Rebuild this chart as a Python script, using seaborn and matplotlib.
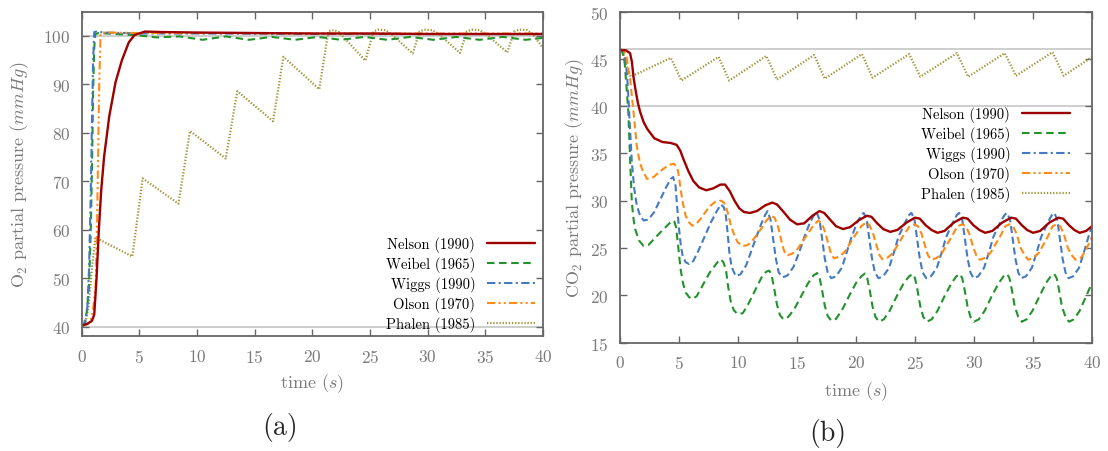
import matplotlib
matplotlib.use("Agg")
import matplotlib.pyplot as plt
from matplotlib.lines import Line2D
import seaborn as sns

# ---------------- data ----------------
labels = ["Nelson (1990)", "Weibel (1965)", "Wiggs (1990)", "Olson (1970)", "Phalen (1985)"]

# (a) O2 partial pressure, mmHg
o2_nelson_t = [0, 0.5, 0.9, 1.1, 1.3, 1.5, 1.7, 1.95, 2.4, 2.95, 3.5, 4.1, 4.6, 5.5, 7, 10, 15, 20, 25, 30, 35, 40]
o2_nelson_p = [40.2, 40.6, 41.2, 42.5, 50.0, 60.0, 68.0, 75.0, 83.4, 90.5, 95.0, 98.7, 100.2, 100.9, 100.8, 100.7,
               100.6, 100.5, 100.5, 100.4, 100.4, 100.4]

o2_weibel_t = [0, 0.2, 0.45, 0.64, 0.8, 0.9, 1.0, 1.1, 1.2, 1.5, 3, 5, 6.5, 8.5, 10.5, 12.5, 14.5, 16.5, 18.5, 20.5,
               22.5, 24.5, 26.5, 28.5, 30.5, 32.5, 34.5, 36.5, 38.5, 40]
o2_weibel_p = [40.2, 40.4, 43.0, 48.0, 60.0, 72.0, 88.0, 97.5, 100.4, 100.6, 100.4, 100.1, 99.7, 99.9, 99.2, 99.9,
               99.2, 99.8, 99.2, 99.8, 99.2, 99.8, 99.2, 99.8, 99.2, 99.8, 99.2, 99.8, 99.2, 99.6]

o2_wiggs_t = [0, 0.3, 0.5, 0.65, 0.8, 0.9, 1.0, 1.1, 1.3, 2, 5, 10, 20, 30, 40]
o2_wiggs_p = [40.2, 40.6, 44.0, 52.0, 68.0, 82.0, 95.0, 100.8, 100.9, 100.7, 100.5, 100.5, 100.4, 100.4, 100.4]

o2_olson_t = [0, 0.5, 0.8, 1.0, 1.22, 1.35, 1.45, 1.55, 1.65, 1.8, 2.5, 5, 10, 20, 30, 40]
o2_olson_p = [40.2, 40.5, 41.4, 43.5, 48.2, 62.0, 78.0, 92.0, 100.4, 100.7, 100.7, 100.6, 100.6, 100.5, 100.5, 100.5]

o2_phalen_t = [0, 0.3, 0.6, 0.9, 1.2, 4.4, 5.3, 8.4, 9.4, 12.5, 13.5, 16.6, 17.5, 20.6, 21.4, 21.9, 22.3, 24.6,
               25.3, 25.7, 26.3, 26.8, 28.7, 29.3, 29.7, 30.4, 30.9, 32.8, 33.4, 33.8, 34.5, 35.0, 36.9, 37.5,
               37.9, 38.6, 39.1, 40]
o2_phalen_p = [40.0, 40.5, 44.0, 52.0, 58.4, 54.5, 70.6, 65.4, 80.4, 74.7, 88.6, 82.4, 95.7, 89.0, 101.0, 101.2,
               100.8, 94.9, 100.9, 101.3, 101.2, 100.5, 96.4, 100.9, 101.3, 101.2, 100.5, 96.5, 100.9, 101.3,
               101.2, 100.5, 96.6, 100.9, 101.3, 101.2, 100.4, 97.5]

# (b) CO2 partial pressure, mmHg
co2_nelson_t = [0, 0.5, 0.85, 1.0, 1.15, 1.3, 1.5, 1.7, 2.0, 2.3, 2.9, 3.6, 4.3, 4.8, 5.1, 5.4, 5.8, 6.2, 6.7,
                7.3, 7.9, 8.5, 8.9, 9.3, 9.7, 10.1, 10.5, 11.0, 11.6, 12.3, 12.9, 13.3, 13.8, 14.4, 15.0, 15.6,
                16.3, 16.9, 17.3, 17.8, 18.3, 18.9, 19.5, 20.2, 20.9, 21.3, 21.8, 22.3, 22.9, 23.5, 24.3, 25.0,
                25.4, 25.9, 26.4, 26.9, 27.5, 28.3, 29.05, 29.45, 29.95, 30.45, 30.95, 31.55, 32.4, 33.15, 33.55,
                34.05, 34.5, 35.0, 35.6, 36.4, 37.15, 37.55, 38.05, 38.5, 38.95, 39.5, 40.0]
co2_nelson_p = [45.9, 45.9, 45.6, 44.7, 43.0, 41.8, 40.4, 39.4, 38.3, 37.6, 36.6, 36.2, 36.1, 35.9, 35.3, 34.3,
                33.1, 32.1, 31.4, 31.1, 31.3, 31.7, 31.7, 31.0, 30.0, 29.2, 28.8, 28.7, 28.9, 29.5, 29.8, 29.6,
                28.9, 28.0, 27.5, 27.6, 28.4, 28.9, 28.7, 28.0, 27.3, 27.0, 27.2, 27.9, 28.4, 28.3, 27.6, 27.0,
                26.7, 26.9, 27.7, 28.2, 28.1, 27.4, 26.9, 26.6, 26.8, 27.7, 28.2, 28.1, 27.4, 26.9, 26.6, 26.8,
                27.7, 28.2, 28.1, 27.4, 26.9, 26.6, 26.8, 27.7, 28.2, 28.1, 27.4, 26.9, 26.6, 26.8, 27.3]

co2_weibel_t = [0, 0.2, 0.4, 0.55, 0.7, 0.85, 1.0, 1.15, 1.28, 1.6, 2.0, 2.4, 2.85, 3.3, 3.7, 4.1, 4.42, 4.6,
                4.75, 4.9, 5.13, 5.35, 5.56, 5.85, 6.13, 6.5, 6.98, 7.6, 8.26, 8.55, 8.75, 8.97, 9.15, 9.4, 9.65,
                9.97, 10.4, 10.8, 11.4, 12.0, 12.4, 12.65, 12.85, 13.05, 13.3, 13.55, 13.85, 14.25, 14.75, 15.35,
                15.95, 16.4, 16.7, 16.9, 17.1, 17.35, 17.6, 17.9, 18.3, 18.8, 19.4, 20.0, 20.45, 20.75, 20.95,
                21.15, 21.4, 21.65, 21.95, 22.35, 22.85, 23.45, 24.05, 24.5, 24.8, 25.0, 25.2, 25.45, 25.7, 26.0,
                26.4, 26.9, 27.5, 28.1, 28.5, 28.8, 29.0, 29.2, 29.45, 29.7, 30.0, 30.4, 30.9, 31.5, 32.1, 32.5,
                32.8, 33.0, 33.2, 33.45, 33.75, 34.05, 34.45, 34.95, 35.55, 36.1, 36.5, 36.8, 37.0, 37.2, 37.45,
                37.75, 38.05, 38.45, 38.95, 39.5, 40.0]
co2_weibel_p = [46.0, 45.8, 44.5, 42.0, 39.4, 34.5, 29.8, 28.0, 27.0, 25.8, 25.2, 25.3, 25.9, 26.5, 27.0, 27.5,
                27.9, 27.8, 27.2, 25.5, 22.75, 21.2, 20.3, 19.8, 19.6, 19.9, 21.0, 22.4, 23.5, 23.8, 23.5, 22.75,
                21.0, 19.2, 18.4, 18.0, 18.1, 18.9, 20.4, 21.9, 22.5, 22.6, 22.1, 20.8, 19.0, 17.9, 17.45, 17.7,
                18.5, 19.9, 21.3, 22.1, 22.35, 21.9, 20.7, 18.9, 17.8, 17.3, 17.5, 18.4, 19.9, 21.3, 22.0, 22.3,
                21.8, 20.6, 18.8, 17.7, 17.2, 17.45, 18.35, 19.9, 21.3, 22.0, 22.25, 21.8, 20.6, 18.8, 17.7, 17.2,
                17.45, 18.35, 19.9, 21.3, 22.0, 22.25, 21.8, 20.6, 18.8, 17.7, 17.2, 17.45, 18.35, 19.9, 21.3,
                22.0, 22.25, 21.8, 20.6, 18.8, 17.7, 17.2, 17.45, 18.35, 19.9, 21.3, 22.0, 22.25, 21.8, 20.6,
                18.8, 17.7, 17.2, 17.45, 18.35, 19.9, 21.3]

co2_wiggs_t = [0, 0.3, 0.45, 0.6, 0.7, 0.85, 1.0, 1.2, 1.42, 1.7, 2.0, 2.4, 2.9, 3.4, 3.9, 4.3, 4.5, 4.7, 4.85,
               5.0, 5.15, 5.3, 5.55, 5.85, 6.2, 6.6, 7.1, 7.7, 8.2, 8.55, 8.8, 8.97, 9.1, 9.26, 9.45, 9.8, 10.2,
               10.7, 11.3, 11.95, 12.3, 12.5, 12.75, 12.95, 13.2, 13.45, 13.8, 14.2, 14.7, 15.2, 15.6, 16.1,
               16.45, 16.65, 16.9, 17.1, 17.35, 17.6, 17.9, 18.3, 18.8, 19.2, 19.6, 20.1, 20.45, 20.65, 20.9,
               21.1, 21.35, 21.6, 21.9, 22.3, 22.8, 23.2, 23.6, 24.2, 24.5, 24.7, 24.95, 25.15, 25.4, 25.65,
               25.95, 26.35, 26.85, 27.25, 27.65, 28.25, 28.55, 28.75, 29.0, 29.2, 29.45, 29.7, 29.95, 30.35,
               30.85, 31.25, 31.65, 32.25, 32.6, 32.8, 33.05, 33.25, 33.5, 33.75, 34.0, 34.4, 34.9, 35.3, 35.7,
               36.3, 36.6, 36.8, 37.05, 37.25, 37.5, 37.75, 38.0, 38.4, 38.9, 39.3, 39.7, 40.0]
co2_wiggs_p = [46.0, 45.9, 45.0, 43.2, 41.1, 37.5, 34.1, 31.3, 29.5, 28.4, 27.9, 28.0, 28.8, 30.1, 31.4, 32.3,
               32.5, 31.6, 29.2, 27.0, 25.3, 24.2, 23.5, 23.3, 23.6, 24.6, 26.0, 27.7, 28.9, 29.6, 29.3, 28.4,
               26.8, 24.6, 23.0, 22.05, 22.2, 23.2, 25.3, 27.5, 28.5, 28.9, 28.0, 26.2, 23.9, 22.4, 21.9, 22.1,
               23.0, 24.6, 26.1, 27.7, 28.5, 28.8, 28.0, 26.2, 23.9, 22.4, 21.8, 22.0, 22.9, 24.5, 26.1, 27.7,
               28.5, 28.7, 28.0, 26.2, 23.9, 22.4, 21.8, 22.0, 22.9, 24.5, 26.2, 27.8, 28.5, 28.7, 28.0, 26.2,
               23.9, 22.4, 21.8, 22.0, 22.9, 24.5, 26.2, 27.8, 28.5, 28.7, 28.0, 26.2, 23.9, 22.4, 21.8, 22.0,
               22.9, 24.5, 26.2, 27.8, 28.5, 28.7, 28.0, 26.2, 23.9, 22.4, 21.8, 22.0, 22.9, 24.5, 26.2, 27.8,
               28.5, 28.7, 28.0, 26.2, 23.9, 22.4, 21.8, 22.0, 22.9, 24.5, 26.2, 27.3]

co2_olson_t = [0, 0.3, 0.55, 0.85, 1.14, 1.42, 1.65, 1.85, 2.28, 2.85, 3.3, 3.7, 4.2, 4.56, 4.85, 5.0, 5.13,
               5.35, 5.56, 5.85, 6.13, 6.5, 6.84, 7.3, 7.69, 8.1, 8.55, 8.8, 8.97, 9.2, 9.4, 9.7, 9.97, 10.4,
               10.8, 11.1, 11.6, 12.0, 12.4, 12.8, 13.1, 13.4, 13.7, 13.9, 14.15, 14.6, 15.05, 15.8, 16.4, 16.8,
               17.1, 17.4, 17.7, 17.9, 18.15, 18.6, 19.05, 19.85, 20.45, 20.85, 21.15, 21.45, 21.8, 22.0, 22.25,
               22.7, 23.15, 23.95, 24.55, 24.95, 25.25, 25.55, 25.9, 26.1, 26.4, 26.85, 27.3, 28.1, 28.6, 29.0,
               29.3, 29.6, 29.95, 30.2, 30.5, 30.95, 31.4, 32.2, 32.65, 33.0, 33.3, 33.6, 33.95, 34.3, 34.6,
               35.05, 35.5, 36.25, 36.65, 37.0, 37.3, 37.6, 37.95, 38.3, 38.6, 39.05, 39.45, 40.0]
co2_olson_p = [46.0, 45.9, 45.2, 42.9, 39.4, 35.8, 34.2, 33.4, 32.3, 32.5, 33.0, 33.4, 33.8, 33.9, 33.5, 32.5,
               31.2, 29.6, 28.4, 27.7, 27.35, 27.6, 28.1, 28.9, 29.5, 29.9, 30.0, 29.8, 29.4, 28.4, 27.35, 26.3,
               25.6, 25.2, 25.3, 25.6, 26.4, 27.1, 27.9, 28.4, 28.2, 27.2, 25.6, 24.7, 24.2, 24.4, 24.9, 26.3,
               27.4, 27.9, 27.6, 26.6, 25.2, 24.3, 23.9, 24.1, 24.6, 26.2, 27.3, 27.7, 27.4, 26.5, 25.0, 24.2,
               23.8, 24.0, 24.5, 26.2, 27.3, 27.5, 27.3, 26.5, 25.0, 24.2, 23.75, 23.95, 24.5, 26.2, 27.3, 27.5,
               27.3, 26.5, 25.0, 24.2, 23.75, 23.95, 24.5, 26.2, 27.3, 27.5, 27.3, 26.5, 25.0, 24.2, 23.75,
               23.95, 24.5, 26.2, 27.3, 27.5, 27.3, 26.5, 25.0, 24.2, 23.75, 23.95, 24.7, 26.2]

co2_phalen_t = [0, 0.3, 0.6, 0.9, 4.3, 5.2, 8.35, 9.25, 12.4, 13.3, 16.45, 17.35, 20.5, 21.4, 24.5, 25.45, 28.55,
                29.5, 32.6, 33.55, 36.65, 37.6, 40.0]
co2_phalen_p = [46.0, 45.4, 44.0, 43.1, 45.1, 42.7, 45.2, 42.7, 45.3, 42.8, 45.4, 42.9, 45.5, 43.0, 45.5, 43.1,
                45.6, 43.1, 45.6, 43.2, 45.7, 43.2, 45.2]

# reference levels drawn as thin grey lines
o2_ref_levels = [100, 40]
co2_ref_levels = [46, 40]

# ---------------- style ----------------
sns.set_theme(style="ticks")
plt.rcParams["font.family"] = ["cmr10", "DejaVu Serif"]
plt.rcParams["mathtext.fontset"] = "cm"
plt.rcParams["axes.unicode_minus"] = False
plt.rcParams["axes.formatter.use_mathtext"] = True

colors = ["#9e0000", "#22922a", "#4479c4", "#ff8a14", "#a0963c"]
widths = [1.7, 1.5, 1.5, 1.5, 1.6]
key_styles = ["-", (0, (3.6, 2.2)), (0, (4.0, 1.6, 1.0, 1.6)),
              (0, (4.0, 1.5, 1.0, 1.5, 1.0, 1.5)), (0, (0.6, 0.8))]
# in panel (b) the dense dash-dot traces render as plain dashes
b_styles = ["-", (0, (3.6, 2.2)), (0, (3.4, 1.8)), (0, (3.4, 1.8)), (0, (0.6, 0.8))]

spine_col = "#666666"
text_grey = "#7a7a7a"
ref_col = "#c6c6c6"

fig = plt.figure(figsize=(11.08, 4.52), dpi=100)
ax_a = fig.add_axes([0.0736, 0.2535, 0.4165, 0.7184])
ax_b = fig.add_axes([0.5596, 0.2400, 0.4260, 0.7323])

panel_a = [(o2_nelson_t, o2_nelson_p), (o2_weibel_t, o2_weibel_p), (o2_wiggs_t, o2_wiggs_p),
           (o2_olson_t, o2_olson_p), (o2_phalen_t, o2_phalen_p)]
panel_b = [(co2_nelson_t, co2_nelson_p), (co2_weibel_t, co2_weibel_p), (co2_wiggs_t, co2_wiggs_p),
           (co2_olson_t, co2_olson_p), (co2_phalen_t, co2_phalen_p)]

for lvl in o2_ref_levels:
    ax_a.axhline(lvl, color=ref_col, lw=1.2, zorder=0)
for lvl in co2_ref_levels:
    ax_b.axhline(lvl, color=ref_col, lw=1.2, zorder=0)

draw_order = [4, 1, 2, 3, 0]
for i in draw_order:
    t, p = panel_a[i]
    sns.lineplot(x=t, y=p, ax=ax_a, color=colors[i], linewidth=widths[i], linestyle=key_styles[i],
                 sort=False, estimator=None, legend=False)
for i in draw_order:
    t, p = panel_b[i]
    sns.lineplot(x=t, y=p, ax=ax_b, color=colors[i], linewidth=widths[i], linestyle=b_styles[i],
                 sort=False, estimator=None, legend=False)

ax_a.set_xlim(0, 40)
ax_a.set_ylim(38, 105)
ax_a.set_yticks(range(40, 101, 10))
ax_b.set_xlim(0, 40)
ax_b.set_ylim(15, 50)
ax_b.set_yticks(range(15, 51, 5))

for ax in (ax_a, ax_b):
    ax.set_xticks(range(0, 41, 5))
    for s in ax.spines.values():
        s.set_color(spine_col)
        s.set_linewidth(1.3)
        s.set_visible(True)
    ax.tick_params(direction="in", length=5, width=1.0, color=spine_col, labelcolor=text_grey,
                   labelsize=12.5, top=True, right=True, pad=8)

ax_a.set_xlabel("time ($s$)", fontsize=13, color=text_grey, labelpad=5)
ax_b.set_xlabel("time ($s$)", fontsize=13, color=text_grey, labelpad=6.5)
ax_a.set_ylabel("O$_2$ partial pressure ($mmHg$)", fontsize=13, color=text_grey, labelpad=9)
ax_b.set_ylabel("CO$_2$ partial pressure ($mmHg$)", fontsize=13, color=text_grey, labelpad=3)

handles = [Line2D([], [], color=colors[i], lw=widths[i], linestyle=key_styles[i]) for i in range(5)]
leg_kw = dict(frameon=False, markerfirst=False, fontsize=10.5, handlelength=3.3, handletextpad=0.8,
              labelspacing=0.27, borderpad=0, borderaxespad=0, loc="upper right",
              bbox_transform=fig.transFigure)
leg_a = ax_a.legend(handles, labels, bbox_to_anchor=(535 / 1108, 1 - 237 / 452), **leg_kw)
leg_b = ax_b.legend(handles, labels, bbox_to_anchor=(1070 / 1108, 1 - 107 / 452), **leg_kw)
for leg in (leg_a, leg_b):
    for txt in leg.get_texts():
        txt.set_color("black")

fig.text(280 / 1108, 1 - 428 / 452, "(a)", ha="center", va="center", fontsize=20)
fig.text(828 / 1108, 1 - 434 / 452, "(b)", ha="center", va="center", fontsize=20)

fig.savefig("out.png", dpi=100)
